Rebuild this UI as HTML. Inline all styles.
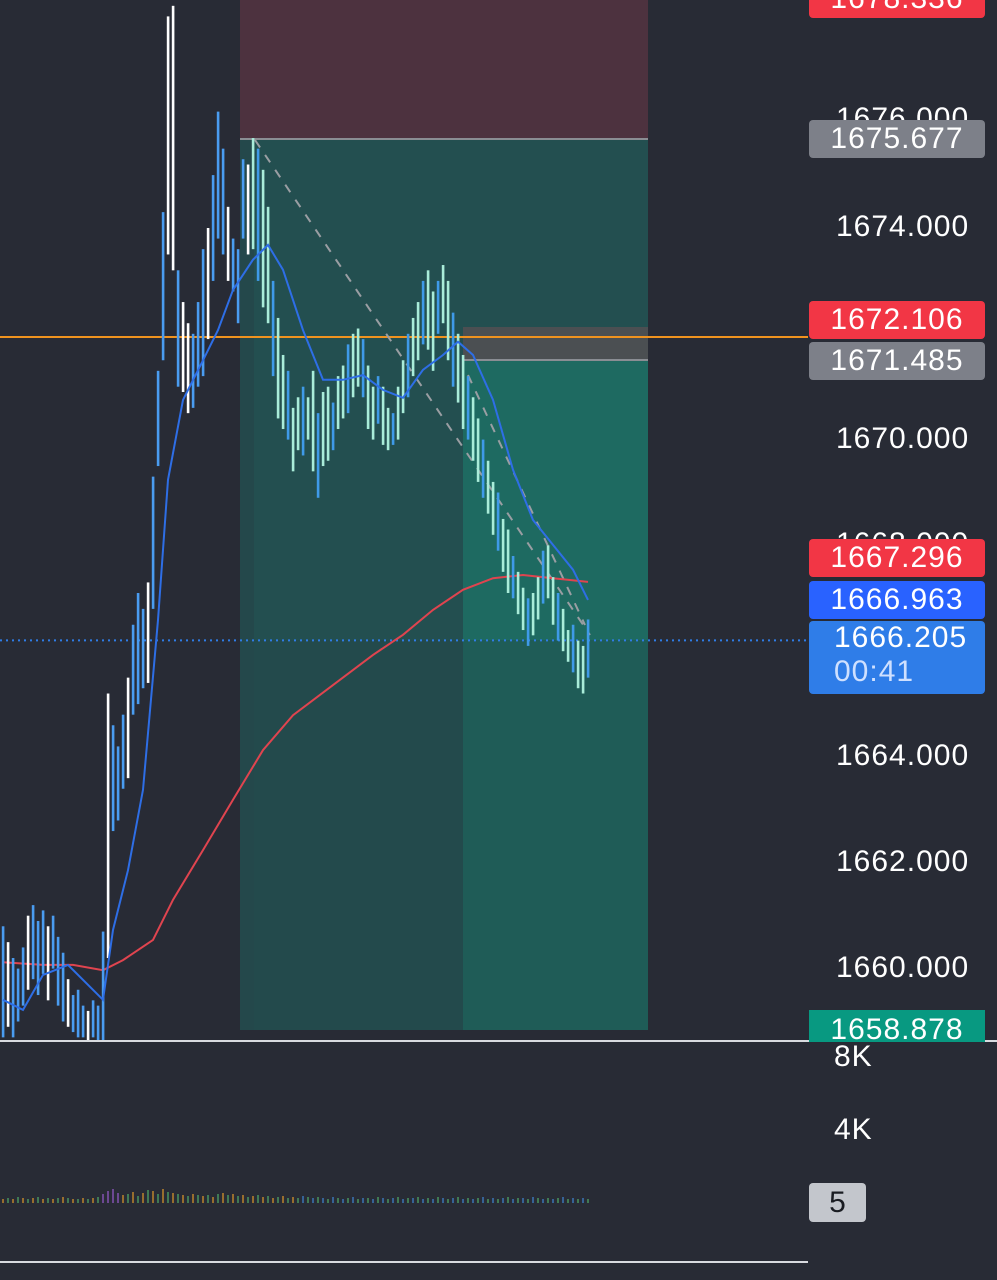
<!DOCTYPE html>
<html><head><meta charset="utf-8"><style>
html,body{margin:0;padding:0;background:#282b35;}
#wrap{position:relative;width:997px;height:1280px;overflow:hidden;background:#282b35;font-family:"Liberation Sans",sans-serif;}
.lbl{position:absolute;left:809px;width:176px;height:38px;color:#fff;font-size:30px;letter-spacing:1px;line-height:38px;text-align:center;}
.ax{position:absolute;left:836px;color:#fff;font-size:30px;letter-spacing:1px;line-height:30px;}
</style></head><body>
<div id="wrap">
<svg id="svg" width="997" height="1280" style="position:absolute;left:0;top:0"></svg>
<div class="ax" style="top:104px">1676.000</div>
<div class="ax" style="top:212px">1674.000</div>
<div class="ax" style="top:424px">1670.000</div>
<div class="ax" style="top:529px">1668.000</div>
<div class="ax" style="top:741px">1664.000</div>
<div class="ax" style="top:847px">1662.000</div>
<div class="ax" style="top:953px">1660.000</div>
<div class="lbl" style="top:-20px;background:#f23645;border-radius:0 0 4px 4px">1678.336</div>
<div class="lbl" style="top:120px;background:#7d8089;border-radius:4px">1675.677</div>
<div class="lbl" style="top:301px;background:#f23645;border-radius:4px">1672.106</div>
<div class="lbl" style="top:342px;background:#7d8089;border-radius:4px">1671.485</div>
<div class="lbl" style="top:539px;background:#f23645;border-radius:4px">1667.296</div>
<div class="lbl" style="top:581px;background:#2962ff;border-radius:4px">1666.963</div>
<div class="lbl" style="top:621px;height:73px;background:#2f7de8;border-radius:4px;line-height:34px;text-align:left;padding-left:25px;width:151px">1666.205<br><span style="color:#cfe0ff">00:41</span></div>
<div class="lbl" style="top:1010px;height:32px;line-height:40px;background:#089981;overflow:hidden">1658.878</div>
<div class="ax" style="top:1042px;left:834px">8K</div>
<div class="ax" style="top:1115px;left:834px">4K</div>
<div style="position:absolute;left:809px;top:1183px;width:57px;height:39px;background:#c3c6cc;border-radius:4px;color:#1a1c22;font-size:30px;line-height:39px;text-align:center">5</div>
</div>
<script>
const highs=[1660.8,1660.5,1660.2,1660.0,1660.4,1661.0,1661.2,1660.9,1661.1,1660.8,1661.0,1660.6,1660.3,1659.8,1659.5,1659.6,1659.3,1659.2,1659.4,1659.3,1660.7,1665.2,1664.6,1664.2,1664.8,1665.5,1666.5,1667.1,1666.8,1667.3,1669.3,1671.3,1674.3,1678.0,1678.2,1673.2,1672.6,1672.2,1672.0,1672.6,1673.6,1674.0,1675.0,1676.2,1675.5,1674.4,1673.8,1673.6,1675.3,1675.2,1675.7,1675.5,1675.1,1674.4,1673.0,1672.3,1671.6,1671.3,1670.6,1670.8,1671.0,1670.8,1671.3,1670.5,1670.9,1671.0,1670.7,1671.2,1671.4,1671.8,1672.0,1672.1,1671.9,1671.4,1671.0,1671.2,1671.0,1670.6,1670.5,1671.0,1671.5,1672.0,1672.3,1672.6,1673.0,1673.2,1672.8,1673.0,1673.3,1673.0,1672.4,1672.0,1671.6,1671.2,1670.8,1670.4,1670.0,1669.6,1669.2,1669.0,1668.5,1668.3,1667.8,1667.5,1667.2,1667.0,1667.1,1667.4,1667.9,1668.0,1667.4,1667.1,1666.8,1666.4,1666.5,1666.2,1666.1,1666.6];
const lows=[1658.7,1658.9,1658.7,1659.0,1659.3,1659.6,1659.8,1659.5,1659.9,1659.4,1660.0,1659.3,1659.0,1658.9,1658.8,1658.7,1658.7,1658.65,1658.7,1658.65,1658.65,1660.2,1662.6,1662.8,1663.4,1663.6,1664.8,1665.0,1665.3,1665.4,1666.8,1669.5,1671.5,1673.5,1673.2,1671.0,1670.9,1670.5,1670.6,1671.0,1671.2,1671.9,1673.0,1673.8,1673.5,1673.0,1672.8,1672.2,1673.8,1673.5,1673.6,1673.0,1672.5,1672.2,1671.2,1670.4,1670.2,1670.0,1669.4,1669.8,1669.7,1670.0,1669.4,1668.9,1669.5,1669.6,1669.8,1670.2,1670.4,1670.5,1670.8,1671.0,1670.8,1670.2,1670.0,1670.3,1669.9,1669.8,1669.9,1670.0,1670.5,1670.8,1671.2,1671.5,1671.8,1671.7,1671.3,1672.0,1672.2,1671.5,1671.0,1670.7,1670.2,1670.0,1669.6,1669.2,1668.9,1668.6,1668.2,1667.9,1667.5,1667.1,1667.0,1666.7,1666.4,1666.1,1666.3,1666.6,1666.9,1667.0,1666.5,1666.2,1666.0,1665.8,1665.6,1665.3,1665.2,1665.5];
const volumes=[4,5,4,6,5,4,5,6,4,5,4,5,6,5,4,4,5,4,5,6,9,12,14,10,8,9,11,7,10,13,12,9,14,11,10,9,8,7,9,8,7,8,6,9,10,8,9,7,8,6,7,8,6,7,5,6,7,5,6,5,7,6,5,6,5,4,6,5,4,5,6,4,5,5,4,6,5,4,5,6,4,5,5,6,4,5,4,6,5,4,5,6,4,5,4,5,6,4,5,4,5,6,4,5,5,4,6,5,4,5,4,5,6,4,5,4,5,4];
const fastIdx=[0,4,8,13,20,22,25,28,31,33,36,40,43,46,50,53,56,60,64,68,72,76,80,84,88,91,94,98,102,106,110,114,117];
const fastVal=[1659.41,1659.22,1659.88,1660.07,1659.41,1660.73,1661.86,1663.38,1666.59,1669.24,1670.75,1671.5,1672.07,1672.83,1673.4,1673.68,1673.21,1672.07,1671.13,1671.13,1671.22,1670.94,1670.79,1671.32,1671.6,1671.85,1671.6,1670.75,1669.43,1668.48,1668.01,1667.54,1666.97];
const slowIdx=[0,8,14,20,24,30,34,40,46,52,58,66,74,80,86,92,98,104,110,117];
const slowVal=[1660.12,1660.07,1660.07,1659.97,1660.16,1660.54,1661.3,1662.24,1663.19,1664.13,1664.79,1665.36,1665.93,1666.31,1666.78,1667.16,1667.38,1667.44,1667.38,1667.31];
const NS='http://www.w3.org/2000/svg';
const svg=document.getElementById('svg');
const yP=p=>228+(1674-p)*52.9;
const xI=i=>3+i*5;
function mk(t,a){const e=document.createElementNS(NS,t);for(const k in a)e.setAttribute(k,a[k]);svg.appendChild(e);return e;}
let r;
r=mk('rect',{x:240,y:0,width:408,height:138,fill:'#4d323f'});


r=mk('rect',{x:240,y:138,width:408,height:892,fill:'#234f50'});


r=mk('rect',{x:240,y:138,width:14,height:892,fill:'#24484b'});


r=mk('rect',{x:254,y:640,width:209,height:390,fill:'#234a4c'});


r=mk('rect',{x:463,y:360,width:185,height:670,fill:'#1e6a61'});


r=mk('rect',{x:463,y:640,width:185,height:390,fill:'#1f5c57'});


r=mk('rect',{x:463,y:327,width:185,height:33,fill:'#4b4f52'});


r=mk('line',{x1:240,y1:139,x2:648,y2:139,stroke:'#8a8d93','stroke-width':2});


r=mk('line',{x1:463,y1:360,x2:648,y2:360,stroke:'#8a8d93','stroke-width':2});


r=mk('line',{x1:0,y1:337,x2:808,y2:337,stroke:'#f0931f','stroke-width':2});


r=mk('line',{x1:0,y1:yP(1666.205),x2:808,y2:yP(1666.205),stroke:'#2f7de8','stroke-width':2,'stroke-dasharray':'2,4'});


r=mk('line',{x1:255,y1:140,x2:590,y2:635,stroke:'#9a9ea3','stroke-width':2,'stroke-dasharray':'9,9'});


r=mk('line',{x1:468,y1:375,x2:585,y2:625,stroke:'#9a9ea3','stroke-width':2,'stroke-dasharray':'9,9'});


function line(idx,val,color,name){const d=idx.map((i,k)=>(k?'L':'M')+xI(i)+' '+yP(val[k]).toFixed(1)).join(' ');const p=mk('path',{d:d,fill:'none',stroke:color,'stroke-width':2});

}
line(slowIdx,slowVal,'#e0444f','slow-ma');
highs.forEach((h,i)=>{const x=xI(i);let c;const inBox=x>250&&x<650;
if(inBox)c=(i%3===0)?'#3f9ae8':'#a9ecd9';else c=(i%4===1||i===34||i===36||i===37)?'#ffffff':'#4a9cf0';
const e=mk('rect',{x:x-1.2,y:yP(h),width:2.6,height:Math.max(2,yP(lows[i])-yP(h)),fill:c});

});
line(fastIdx,fastVal,'#2e6ee6','fast-ma');
r=mk('line',{x1:0,y1:1041,x2:997,y2:1041,stroke:'#d9dbe0','stroke-width':2});


r=mk('line',{x1:0,y1:1262,x2:808,y2:1262,stroke:'#d9dbe0','stroke-width':2});


const vc=['#e39b2b','#4fae6a','#3f86d8','#9a5bd0'];
volumes.forEach((v,i)=>{const x=xI(i);const c=i>=20&&i<24?vc[3]:(i<60?vc[i%2]:vc[2-(i%2)]);
const e=mk('rect',{x:x-0.6,y:1203-v,width:1.2,height:v,fill:c});

});
</script>
</body></html>
